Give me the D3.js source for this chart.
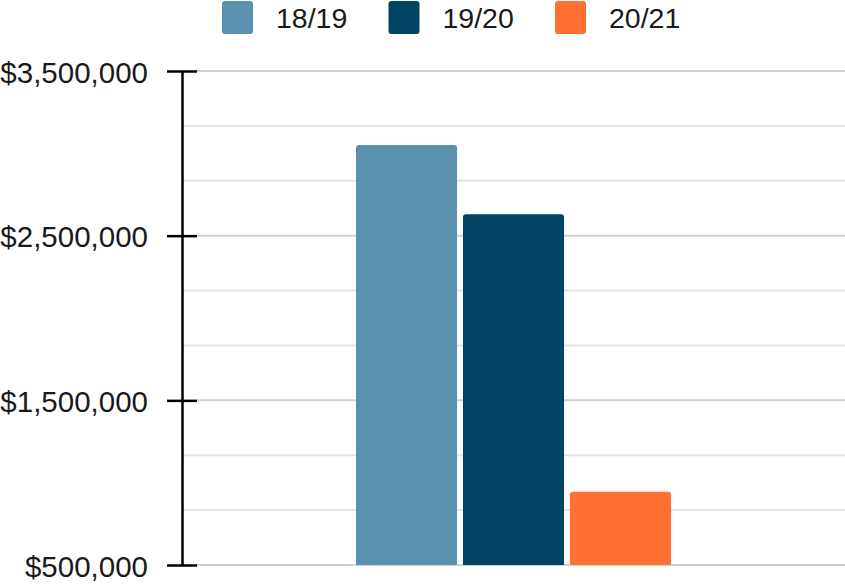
<!DOCTYPE html>
<html>
<head>
<meta charset="utf-8">
<script src="https://cdn.jsdelivr.net/npm/d3@7"></script>
<style>
  body { margin: 0; background: #fff; }
  text { font-family: "Liberation Sans", Arial, sans-serif; }
</style>
</head>
<body>
<svg id="chart"></svg>
<script>
const seasons = ["18/19", "19/20", "20/21"];
const amounts = [3050000, 2630000, 945000];
const colors = ["#5a91ae", "#004462", "#ff7033"];
const majorTicks = [500000, 1500000, 2500000, 3500000];

const w = 845;
const h = 584;
const margin = { top: 71, right: 0, bottom: 19, left: 182 };

const svg = d3.select("#chart").attr("width", w).attr("height", h);

const y = d3.scaleLinear([500000, 3500000], [h - margin.bottom, margin.top]);
const x = d3.scaleBand(seasons, [356, 671]).paddingInner(0.055);

// minor grid every third of a major step
const minorTicks = d3.range(500000, 3500001, 1000000 / 3).filter(v => !majorTicks.some(m => Math.abs(m - v) < 1));

svg.append("g").selectAll("line").data(minorTicks).join("line").
attr("x1", margin.left).attr("x2", w).
attr("y1", d => y(d)).attr("y2", d => y(d)).
attr("stroke", "#e4e4e4").attr("stroke-width", 2);

svg.append("g").selectAll("line").data(majorTicks).join("line").
attr("x1", margin.left + 15).attr("x2", w).
attr("y1", d => y(d)).attr("y2", d => y(d)).
attr("stroke", "#d2d2d2").attr("stroke-width", 2);

// bars with rounded tops
const r = 3;
svg.append("g").selectAll("path").data(seasons).join("path").
attr("fill", (d, i) => colors[i]).
attr("d", (d, i) => {
  const x0 = x(d), bw = x.bandwidth(), y0 = y(amounts[i]), yb = y(500000);
  return `M${x0},${yb}V${y0 + r}Q${x0},${y0} ${x0 + r},${y0}H${x0 + bw - r}Q${x0 + bw},${y0} ${x0 + bw},${y0 + r}V${yb}Z`;
});

// y axis
const yAxis = d3.axisLeft(y).tickValues(majorTicks).
tickFormat(d => "$" + d3.format(",")(d)).
tickSizeInner(15).tickSizeOuter(0).tickPadding(17);

const ax = svg.append("g").attr("transform", `translate(${margin.left},0)`).call(yAxis);
ax.select(".domain").attr("stroke", "#000").attr("stroke-width", 2.5);
ax.selectAll(".tick line").attr("stroke", "#000").attr("stroke-width", 2.5).attr("x2", 15).attr("x1", -15);
ax.selectAll(".tick text").attr("font-size", 29.5).attr("fill", "#1a1a1a").
attr("font-family", "'Liberation Sans', Arial, sans-serif").attr("x", -34).attr("dy", "0.38em");

// legend
const legend = svg.append("g").selectAll("g").data(seasons).join("g").
attr("transform", (d, i) => `translate(${222 + i * 166.5},1)`);
legend.append("rect").attr("width", 31).attr("height", 33).attr("rx", 3).
attr("fill", (d, i) => colors[i]);
legend.append("text").attr("x", 54).attr("y", 27).attr("font-size", 28.5).
attr("fill", "#1a1a1a").text(d => d);
</script>
</body>
</html>
